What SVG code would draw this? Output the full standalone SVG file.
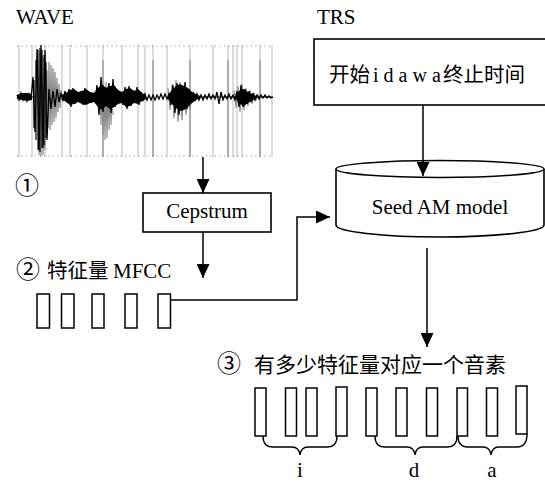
<svg xmlns="http://www.w3.org/2000/svg" width="545" height="482" viewBox="0 0 545 482">
<defs>
<marker id="arr" viewBox="0 0 14 13" refX="14" refY="6.5" markerWidth="14" markerHeight="13" markerUnits="userSpaceOnUse" orient="auto">
<path d="M0 0 L14 6.5 L0 13 Z" fill="#000"/>
</marker>
<style>
.t{font-family:"Liberation Serif","Noto Sans CJK SC",serif;font-size:21px;fill:#000}
.c{font-family:"Noto Sans CJK SC","Liberation Serif",sans-serif;font-size:20.5px;fill:#000}
.n{font-family:"Noto Sans CJK SC","DejaVu Sans",sans-serif;font-size:24px;fill:#000}
.box{fill:#fff;stroke:#000;stroke-width:1.6}
.bar{fill:#fff;stroke:#000;stroke-width:1.5}
.con{fill:none;stroke:#000;stroke-width:1.5}
.grid{stroke:#b8b8b8;stroke-width:1}
.gridd{stroke:#808080;stroke-width:1}
.brace{fill:none;stroke:#000;stroke-width:1.4}
</style>
</defs>
<rect width="545" height="482" fill="#fff"/>

<g id="wave">
<text class="t" x="16" y="24">WAVE</text>
<g id="wave-grid">
<path class="grid" d="M19 45V157M32 45V157M45 45V157M62 45V157M70 45V157M87 45V157M103 45V157M122 45V157M138 45V157M145 45V157M153 45V157M167 45V157M190 45V157M213 45V157M228 45V157M233 45V157M237 45V157M242 45V157M260 45V157M272 45V157"/>
<path class="gridd" d="M103 60V157M153 60V157M190 60V157M228 60V157M260 60V157"/>
<path d="M17 46H273M17 156H273" stroke="#888" stroke-width="1.2" stroke-dasharray="1 3.5"/>
</g>
<polyline fill="none" stroke="#888" stroke-width="1.2" points="38,60 39,155 40,52 41,157 42,55 43,155 44,58 45,150 47,70 48,128 49,62 50,130 51,65 52,125 53,68 54,122 55,72 56,118 57,78 58,112 59,84 60,108 61,90 62,100"/>
<polyline fill="none" stroke="#888" stroke-width="1.1" points="100,90 101,125 102,85 103,135 104,88 105,140 106,82 107,138 108,86 109,130 110,90 111,125 112,92 113,115"/>
<polyline fill="none" stroke="#888" stroke-width="1.1" points="168,88 170,110 172,84 174,118 176,80 178,122 180,82 182,120 184,86 186,115 188,90 190,110 192,93"/>
<polyline fill="none" stroke="#888" stroke-width="1.1" points="234,90 236,108 238,86 240,112 242,84 244,110 246,88 248,106 250,90 252,104 254,93 256,100 258,95 260,99"/>
<g fill="#000">
<polygon points="17,95 22,93 27,93 32,94 32,100 27,101 22,100 17,99"/>
<polygon points="62,95 66,93 70,90 74,89 78,92 82,91 86,89 90,92 94,93 98,88 102,84 106,88 110,86 114,85 118,90 122,92 126,89 130,88 134,91 138,89 142,93 146,95 146,99 142,101 138,104 134,103 130,106 126,107 122,103 118,104 114,107 110,109 106,106 102,110 98,107 94,102 90,103 86,105 82,104 78,102 74,104 70,105 66,102 62,99"/>
<polygon points="168,95 172,90 176,86 180,84 184,86 188,88 192,92 196,94 200,96 200,98 196,100 192,103 188,107 184,110 180,111 176,108 172,104 168,99"/>
<polygon points="236,95 240,90 244,89 248,92 252,94 256,96 256,98 252,101 248,103 244,106 240,104 236,99"/>
</g>
<polyline fill="none" stroke="#000" stroke-width="1.3" points="17,95 19,100 21,93 23,100 25,95 27,101 29,94 31,99 33,77 35,132 37,49 39,150 41,45 43,148 45,50 47,140 49,89 51,109 53,91 55,107 57,89 59,102 61,93 63,101 65,91 67,102 69,89 71,107 73,88 75,104 77,92 79,101 81,91 83,105 85,88 87,104 89,92 91,103 93,93 95,102 97,85 99,115 101,77 103,112 105,87 107,105 109,83 111,113 113,79 115,107 117,89 119,103 121,92 123,105 125,87 127,109 129,86 131,106 133,90 135,103 137,87 139,105 141,92 143,101 145,94 147,100 149,95 151,100 153,95 155,100 157,95 159,99 161,94 163,99 165,94 167,99 169,94 171,105 173,85 175,113 177,83 179,115 181,85 183,107 185,82 187,109 189,89 191,103 193,92 195,101 197,94 199,100 201,95 203,100 205,95 207,99 209,94 211,99 213,95 215,99 217,92 219,104 221,92 223,100 225,95 227,99 229,94 231,99 233,95 235,100 237,91 239,107 241,85 243,107 245,89 247,104 249,91 251,102 253,93 255,100 257,95 259,99 261,95 263,98 265,95 267,98 269,96 271,98 273,97"/>
<path d="M34 80V128M36 60V140M38 50V150M40 48V152M42 50V148M44 55V145M46 62V138" stroke="#000" stroke-width="1.2"/>
<path d="M30 97H36M62 97H70M120 97H146M198 97H236M255 97H273" stroke="#000" stroke-width="1.2"/>
</g>

<g id="trs">
<text class="t" x="317" y="24">TRS</text>
<rect class="box" x="314" y="39" width="240" height="66"/>
<text class="t" y="82"><tspan class="c" x="329">开始 </tspan><tspan x="373" font-size="20">i d a w a</tspan><tspan class="c" x="443">终止时间</tspan></text>
</g>

<g id="seed-am-model">
<path class="box" d="M336 169 V225 A104 12 0 0 0 544 225 V169"/>
<ellipse class="box" cx="440" cy="169" rx="104" ry="8.5"/>
<text class="t" x="440" y="214" text-anchor="middle">Seed AM model</text>
</g>

<g id="cepstrum">
<text class="n" x="15" y="194">①</text>
<rect class="box" x="143" y="193" width="128" height="39"/>
<text class="t" x="207" y="218" text-anchor="middle">Cepstrum</text>
</g>

<g id="mfcc">
<text class="t" y="278"><tspan class="n" x="16">②</tspan><tspan class="c" x="47">特征量</tspan><tspan x="113">MFCC</tspan></text>
<rect class="bar" x="37" y="294" width="12.5" height="34"/>
<rect class="bar" x="61.5" y="294" width="12.5" height="34"/>
<rect class="bar" x="92" y="294" width="12" height="34"/>
<rect class="bar" x="125" y="294" width="12" height="34"/>
<rect class="bar" x="158" y="294" width="12.5" height="34"/>
</g>

<g id="phonemes">
<text class="c" x="217" y="372"><tspan class="n">③</tspan><tspan x="254" font-size="21">有多少特征量对应一个音素</tspan></text>
<rect class="bar" x="255" y="388" width="11" height="48"/>
<rect class="bar" x="285.5" y="388" width="11" height="48"/>
<rect class="bar" x="306" y="388" width="11" height="48"/>
<rect class="bar" x="336" y="387" width="11" height="49"/>
<rect class="bar" x="366" y="388" width="11" height="48"/>
<rect class="bar" x="396" y="388" width="11" height="48"/>
<rect class="bar" x="426.5" y="388" width="11" height="48"/>
<rect class="bar" x="457" y="388" width="10.5" height="48"/>
<rect class="bar" x="486.5" y="388" width="11" height="48"/>
<rect class="bar" x="516" y="386" width="11" height="48"/>
<path class="brace" d="M263 436 Q263 447 273 447 H292 Q299 447 300 455 Q301 447 308 447 H327 Q337 447 337 436"/>
<path class="brace" d="M375 436 Q375 447 385 447 H407 Q414 447 415 455 Q416 447 423 447 H447 Q457 447 457 436"/>
<path class="brace" d="M458 436 Q458 447 468 447 H483 Q490 447 491 455 Q492 447 499 447 H517 Q527 447 527 434"/>
<text class="t" x="300" y="477" text-anchor="middle">i</text>
<text class="t" x="414" y="477" text-anchor="middle">d</text>
<text class="t" x="492" y="477" text-anchor="middle">a</text>
</g>

<g id="connectors">
<path class="con" d="M203 157 V193" marker-end="url(#arr)"/>
<path class="con" d="M203 232 V278" marker-end="url(#arr)"/>
<path class="con" d="M423 105 V176" marker-end="url(#arr)"/>
<path class="con" d="M170.5 300 H297 V217 H330" marker-end="url(#arr)"/>
<path class="con" d="M427 248 V347" marker-end="url(#arr)"/>
</g>
</svg>
